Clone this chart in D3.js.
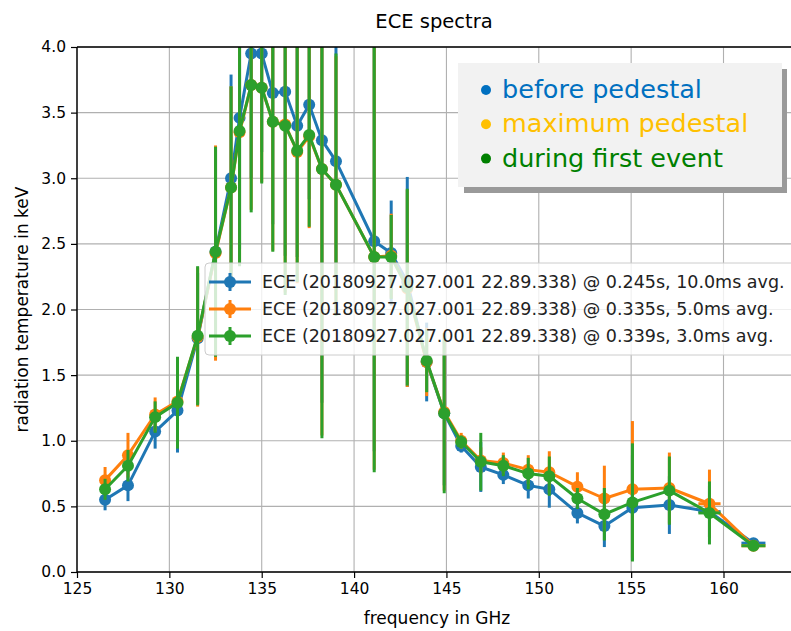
<!DOCTYPE html>
<html>
<head>
  <meta charset="utf-8">
  <title>ECE spectra</title>
  <style>
    body { margin: 0; background: #fff; }
    text { font-family: "DejaVu Sans", sans-serif; }
  </style>
</head>
<body>
  <script src="https://d3js.org/d3.v7.min.js"></script>
  <script>
  'use strict'

  // channel frequencies (GHz)
  const freqs = [126.52, 127.76, 129.23, 130.44, 131.53, 132.50, 133.34, 133.80, 134.43, 135.00,
    135.60, 136.27, 136.92, 137.57, 138.26, 139.02, 141.09, 142.01, 142.88, 143.93,
    144.88, 145.80, 146.86, 148.08, 149.43, 150.57, 152.09, 153.55, 155.07, 157.07,
    159.24, 161.62]
  const freqErr = [0, 0, 0, 0, 0, 0, 0, 0, 0, 0, 0, 0, 0, 0, 0, 0, 0, 0, 0, 0,
    0, 0, 0, 0, 0, 0, 0, 0, 0, 0, 0.6, 0.65]

  // radiation temperature (keV) and errors per time slice
  const teBefore = [0.55, 0.66, 1.07, 1.23, 1.78, 2.44, 3.00, 3.46, 3.95, 3.95,
    3.65, 3.66, 3.40, 3.56, 3.29, 3.13, 2.52, 2.43, 2.21, 1.60,
    1.21, 0.96, 0.80, 0.74, 0.66, 0.63, 0.45, 0.35, 0.49, 0.51,
    0.46, 0.22]
  const errBefore = [0.08, 0.12, 0.13, 0.32, 0.50, 0.78, 0.79, 1.00, 0.95, 0.75,
    1.00, 1.25, 1.00, 0.72, 2.00, 0.88, 1.60, 0.40, 0.80, 0.30,
    0.55, 0.05, 0.19, 0.07, 0.10, 0.14, 0.08, 0.16, 0.40, 0.22,
    0.20, 0.03]
  const teMax = [0.70, 0.89, 1.20, 1.30, 1.79, 2.43, 2.93, 3.35, 3.71, 3.69,
    3.43, 3.41, 3.20, 3.32, 3.07, 2.95, 2.40, 2.41, 2.16, 1.60,
    1.22, 1.00, 0.85, 0.83, 0.78, 0.76, 0.65, 0.56, 0.63, 0.64,
    0.52, 0.20]
  const errMax = [0.10, 0.17, 0.13, 0.33, 0.53, 0.82, 0.77, 1.00, 0.95, 0.72,
    0.98, 1.28, 1.00, 0.70, 2.03, 0.98, 1.62, 0.32, 0.75, 0.26,
    0.60, 0.06, 0.10, 0.08, 0.11, 0.16, 0.11, 0.25, 0.52, 0.27,
    0.26, 0.03]
  const teEvent = [0.63, 0.81, 1.18, 1.29, 1.80, 2.44, 2.93, 3.36, 3.71, 3.69,
    3.43, 3.40, 3.21, 3.33, 3.07, 2.95, 2.40, 2.40, 2.17, 1.61,
    1.21, 0.99, 0.84, 0.81, 0.75, 0.73, 0.56, 0.44, 0.53, 0.62,
    0.45, 0.20]
  const errEvent = [0.08, 0.12, 0.12, 0.35, 0.53, 0.80, 0.77, 1.03, 0.97, 0.73,
    0.99, 1.29, 1.00, 0.70, 2.05, 1.00, 1.64, 0.32, 0.75, 0.24,
    0.61, 0.05, 0.22, 0.08, 0.12, 0.15, 0.08, 0.20, 0.45, 0.26,
    0.24, 0.03]

  const seriesLabels = [
    'ECE (20180927.027.001 22.89.338) @ 0.245s, 10.0ms avg.',
    'ECE (20180927.027.001 22.89.338) @ 0.335s, 5.0ms avg.',
    'ECE (20180927.027.001 22.89.338) @ 0.339s, 3.0ms avg.'
  ]
  const seriesColors = ['#1f77b4', '#ff7f0e', '#2ca02c']
  const xTicks = [125, 130, 135, 140, 145, 150, 155, 160]
  const yTicks = [0, 0.5, 1, 1.5, 2, 2.5, 3, 3.5, 4]

  const notes = ['before pedestal', 'maximum pedestal', 'during first event']
  const noteColors = ['#0070c0', '#ffc000', '#008000']

  const w = 791
  const h = 631
  const pLeft = 77, pRight = 790, pTop = 47, pBottom = 572

  const series = [
    { y: teBefore, e: errBefore },
    { y: teMax, e: errMax },
    { y: teEvent, e: errEvent }
  ]

  const x = d3.scaleLinear().domain([125, 163.6]).range([pLeft, pRight])
  const y = d3.scaleLinear().domain([0, 4]).range([pBottom, pTop])

  const svg = d3.select('body').append('svg')
    .attr('width', w)
    .attr('height', h)

  svg.append('clipPath').attr('id', 'plot')
    .append('rect')
    .attr('x', pLeft).attr('y', pTop)
    .attr('width', w - pLeft).attr('height', pBottom - pTop)

  // grid
  const grid = svg.append('g').attr('stroke', '#b0b0b0').attr('stroke-width', 1.1)
  grid.selectAll('line.gx').data(xTicks).enter().append('line')
    .attr('x1', d => x(d)).attr('x2', d => x(d))
    .attr('y1', pTop).attr('y2', pBottom)
  grid.selectAll('line.gy').data(yTicks).enter().append('line')
    .attr('x1', pLeft).attr('x2', w)
    .attr('y1', d => y(d)).attr('y2', d => y(d))

  // data: error bars under each line, series drawn in order
  const plot = svg.append('g').attr('clip-path', 'url(#plot)')
  series.forEach((s, k) => {
    const pts = freqs.map((f, i) => ({ f: f, fe: freqErr[i], v: s.y[i], e: s.e[i] }))
    const g = plot.append('g')
    g.selectAll('line.ey').data(pts).enter().append('line')
      .attr('x1', d => x(d.f)).attr('x2', d => x(d.f))
      .attr('y1', d => y(d.v + d.e)).attr('y2', d => y(d.v - d.e))
      .attr('stroke', seriesColors[k]).attr('stroke-width', 3)
    g.selectAll('line.ex').data(pts.filter(d => d.fe > 0)).enter().append('line')
      .attr('x1', d => x(d.f - d.fe)).attr('x2', d => x(d.f + d.fe))
      .attr('y1', d => y(d.v)).attr('y2', d => y(d.v))
      .attr('stroke', seriesColors[k]).attr('stroke-width', 3)
    g.append('path')
      .datum(pts)
      .attr('fill', 'none')
      .attr('stroke', seriesColors[k])
      .attr('stroke-width', 3)
      .attr('stroke-linejoin', 'round')
      .attr('d', d3.line().x(d => x(d.f)).y(d => y(d.v)))
    g.selectAll('circle').data(pts).enter().append('circle')
      .attr('cx', d => x(d.f)).attr('cy', d => y(d.v))
      .attr('r', 6)
      .attr('fill', seriesColors[k])
  })

  // axes
  const xAxis = svg.append('g')
    .attr('transform', `translate(0,${pBottom})`)
    .call(d3.axisBottom(x).tickValues(xTicks).tickSize(6).tickPadding(5).tickFormat(d3.format('d')))
  const yAxis = svg.append('g')
    .attr('transform', `translate(${pLeft},0)`)
    .call(d3.axisLeft(y).tickValues(yTicks).tickSize(6).tickPadding(5).tickFormat(d3.format('.1f')))
  ;[xAxis, yAxis].forEach(a => {
    a.select('.domain').remove()
    a.selectAll('line').attr('stroke', '#000').attr('stroke-width', 1.2)
    a.selectAll('text')
      .attr('font-family', '"DejaVu Sans", sans-serif')
      .attr('font-size', '15.5px')
      .attr('fill', '#000')
  })
  svg.append('line').attr('x1', pLeft).attr('x2', pLeft).attr('y1', pTop).attr('y2', pBottom)
    .attr('stroke', '#000').attr('stroke-width', 1.4)
  svg.append('line').attr('x1', pLeft).attr('x2', w).attr('y1', pBottom).attr('y2', pBottom)
    .attr('stroke', '#000').attr('stroke-width', 1.4)
  svg.append('line').attr('x1', pLeft).attr('x2', w).attr('y1', pTop).attr('y2', pTop)
    .attr('stroke', '#000').attr('stroke-width', 1.4)

  // titles
  svg.append('text')
    .attr('x', (pLeft + w) / 2).attr('y', 28)
    .attr('text-anchor', 'middle')
    .attr('font-size', '19.5px')
    .text('ECE spectra')
  svg.append('text')
    .attr('x', (pLeft + w) / 2 + 3).attr('y', 624)
    .attr('text-anchor', 'middle')
    .attr('font-size', '17px')
    .text('frequency in GHz')
  svg.append('text')
    .attr('transform', `translate(28,${(pTop + pBottom) / 2}) rotate(-90)`)
    .attr('text-anchor', 'middle')
    .attr('font-size', '17px')
    .text('radiation temperature in keV')

  // legend
  const legend = svg.append('g')
  legend.append('rect')
    .attr('x', 205).attr('y', 263).attr('width', 600).attr('height', 92)
    .attr('rx', 4)
    .attr('fill', '#fff').attr('fill-opacity', 0.8)
    .attr('stroke', '#cccccc')
  seriesLabels.forEach((lab, k) => {
    const ly = 282 + k * 27
    legend.append('line').attr('x1', 209).attr('x2', 251).attr('y1', ly).attr('y2', ly)
      .attr('stroke', seriesColors[k]).attr('stroke-width', 3)
    legend.append('line').attr('x1', 230).attr('x2', 230).attr('y1', ly - 9).attr('y2', ly + 9)
      .attr('stroke', seriesColors[k]).attr('stroke-width', 3)
    legend.append('circle').attr('cx', 230).attr('cy', ly).attr('r', 6)
      .attr('fill', seriesColors[k])
    legend.append('text')
      .attr('x', 262).attr('y', ly + 6)
      .attr('font-size', '17.5px')
      .attr('fill', '#222')
      .text(lab)
  })

  // annotation box
  const note = svg.append('g')
  note.append('rect')
    .attr('x', 464).attr('y', 69).attr('width', 323).attr('height', 124)
    .attr('fill', '#9a9a9a')
  note.append('rect')
    .attr('x', 458).attr('y', 63).attr('width', 324).attr('height', 124)
    .attr('fill', '#f2f2f2')
  notes.forEach((t, k) => {
    const by = 98 + k * 34.3
    note.append('circle')
      .attr('cx', 486).attr('cy', by - 8).attr('r', 5)
      .attr('fill', noteColors[k])
    note.append('text')
      .attr('x', 502).attr('y', by)
      .attr('font-family', '"Liberation Sans", Arial, sans-serif')
      .attr('font-size', '25.5px')
      .attr('fill', noteColors[k])
      .text(t)
  })
  </script>
</body>
</html>
